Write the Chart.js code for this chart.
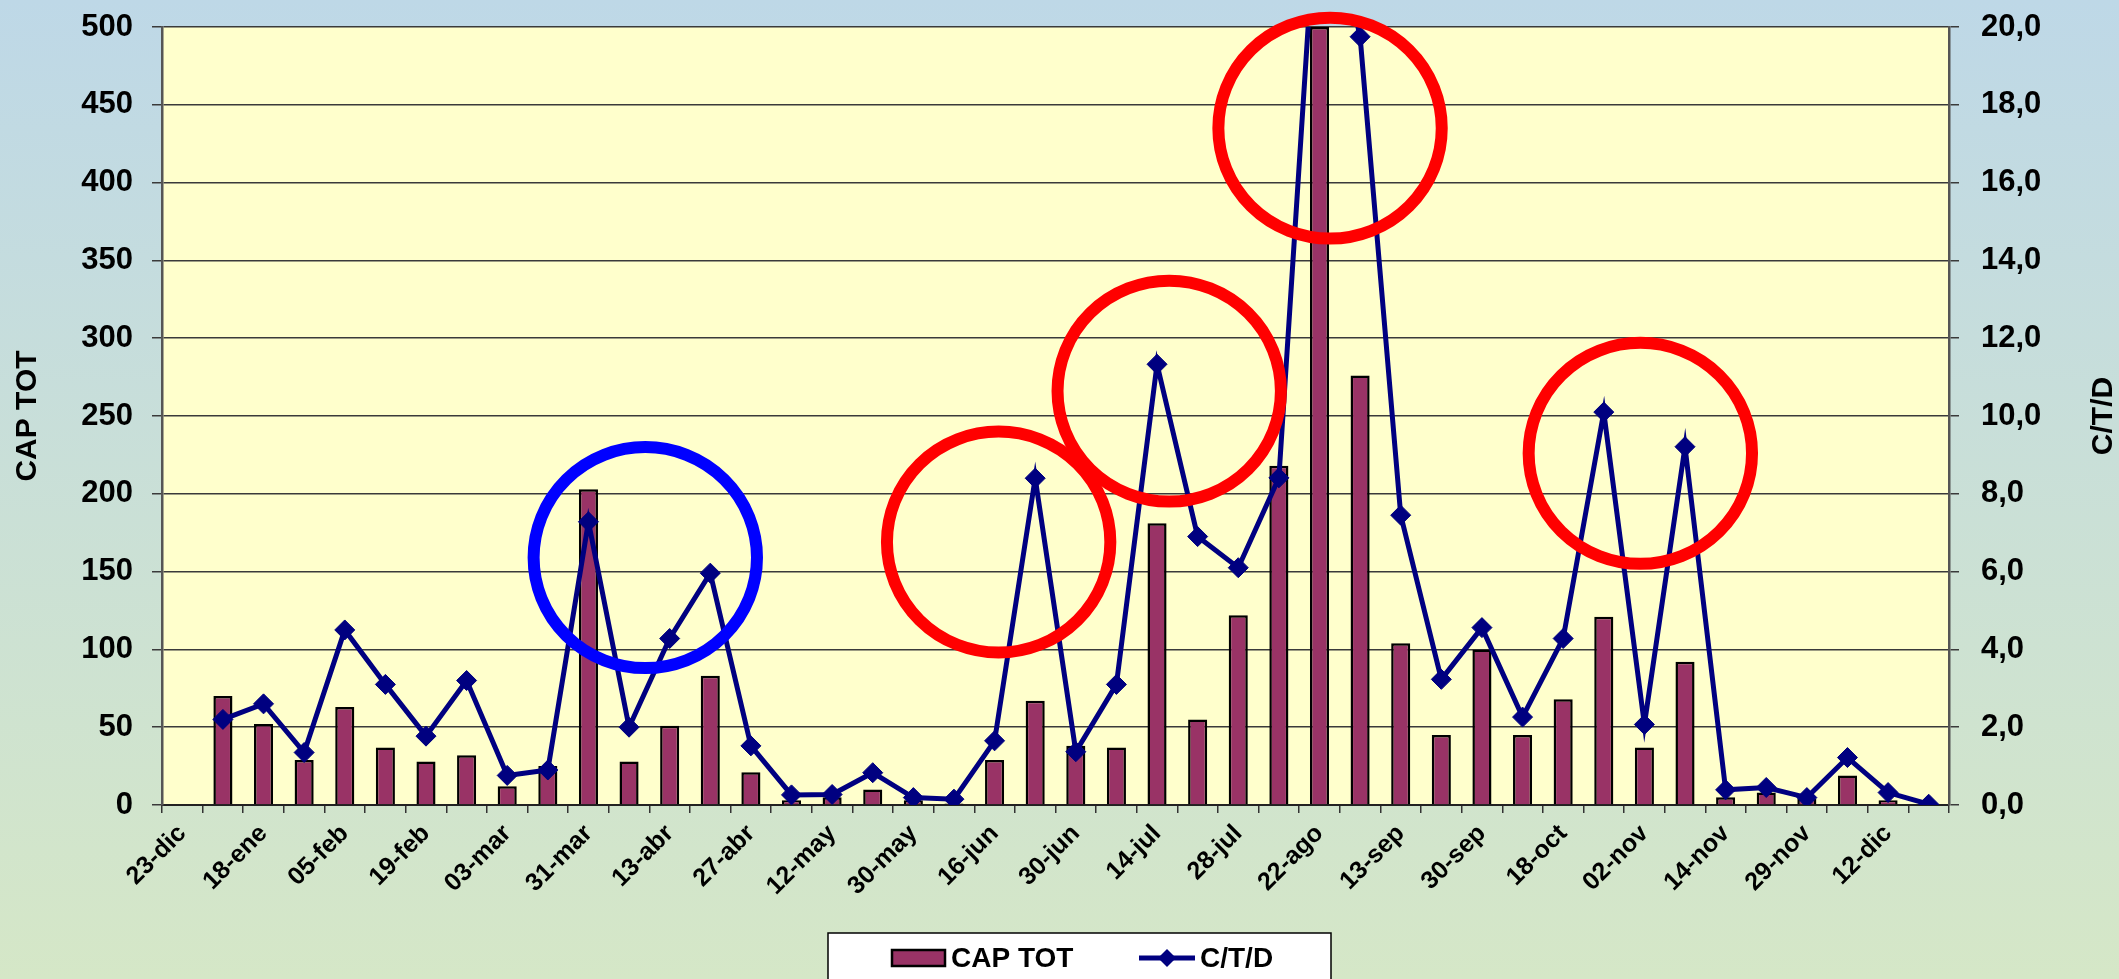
<!DOCTYPE html>
<html lang="es">
<head>
<meta charset="utf-8">
<title>CAP TOT - C/T/D</title>
<style>
  body { margin: 0; }
  #grafico { display: block; background: linear-gradient(#bed8e7, #d5e7c7); }
</style>
</head>
<body>
<canvas id="grafico" width="2119" height="979"></canvas>
<script src="https://cdn.jsdelivr.net/npm/chart.js@4/dist/chart.umd.min.js"></script>
<script>
// fechas (solo se leen las etiquetas pares en el original)
var fechas = ['23-dic','','18-ene','','05-feb','','19-feb','','03-mar','','31-mar','','13-abr','','27-abr','',
              '12-may','','30-may','','16-jun','','30-jun','','14-jul','','28-jul','','22-ago','','13-sep','',
              '30-sep','','18-oct','','02-nov','','14-nov','','29-nov','','12-dic',''];

var capTot = [null, 70, 52, 29, 63, 37, 28, 32, 12, 25, 203, 28, 51, 83, 21, 3, 5, 10, 3, 1,
              29, 67, 38, 37, 181, 55, 122, 218, 500, 276, 104, 45, 100, 45, 68, 121, 37, 92, 5, 8,
              4, 19, 3, null];

var ctd = [null, 2.2, 2.6, 1.35, 4.5, 3.1, 1.77, 3.2, 0.76, 0.9, 7.28, 2.0, 4.28, 5.96, 1.52, 0.26, 0.27, 0.83, 0.19, 0.15,
           1.65, 8.4, 1.37, 3.1, 11.33, 6.9, 6.1, 8.41, 24.5, 19.75, 7.45, 3.23, 4.56, 2.26, 4.28, 10.1, 2.07, 9.21, 0.39, 0.45,
           0.19, 1.22, 0.32, 0.02];

var ticksIzq = [0, 50, 100, 150, 200, 250, 300, 350, 400, 450, 500];
var ticksDer = [0, 2, 4, 6, 8, 10, 12, 14, 16, 18, 20];

// circulos marcados sobre el grafico: centro en (categoria, valor CAP TOT)
var circulos = [
  { cat: 11.4,  val: 159, color: '#0000ff' },
  { cat: 20.1,  val: 169, color: '#ff0000' },
  { cat: 24.3,  val: 266, color: '#ff0000' },
  { cat: 28.26, val: 435, color: '#ff0000' },
  { cat: 35.9,  val: 226, color: '#ff0000' }
];

var FUENTE = '"Liberation Sans", Arial, sans-serif';
var AZUL = '#000080';
var GRANATE = '#993366';

var fondoArea = {
  id: 'fondoArea',
  beforeDraw: function(chart) {
    var a = chart.chartArea, ctx = chart.ctx;
    ctx.save();
    ctx.fillStyle = '#ffffcc';
    ctx.fillRect(a.left, a.top, a.right - a.left, a.bottom - a.top);
    ctx.restore();
  }
};

var extras = {
  id: 'extras',
  afterDraw: function(chart) {
    var ctx = chart.ctx, x = chart.scales.x, y = chart.scales.y, a = chart.chartArea;
    var anchoCat = x.getPixelForValue(1) - x.getPixelForValue(0);
    var pxUnidad = y.getPixelForValue(0) - y.getPixelForValue(1);
    ctx.save();
    // circulos
    circulos.forEach(function(c) {
      ctx.beginPath();
      ctx.ellipse(x.getPixelForValue(c.cat), y.getPixelForValue(c.val), 2.75 * anchoCat, 71 * pxUnidad, 0, 0, Math.PI * 2);
      ctx.lineWidth = 12;
      ctx.strokeStyle = c.color;
      ctx.stroke();
    });

    // titulo eje derecho (leido de abajo hacia arriba)
    ctx.fillStyle = '#000';
    ctx.font = 'bold 30px ' + FUENTE;
    ctx.textAlign = 'center';
    ctx.textBaseline = 'middle';
    ctx.translate(chart.width - 15, (a.top + a.bottom) / 2);
    ctx.rotate(-Math.PI / 2);
    ctx.fillText('C/T/D', 0, 0);
    ctx.restore();

    // leyenda
    ctx.save();
    var L = 828, T = 933, cy = T + 25;
    ctx.fillStyle = '#fff';
    ctx.fillRect(L, T, 503, 60);
    ctx.strokeStyle = '#000';
    ctx.lineWidth = 1.5;
    ctx.strokeRect(L, T, 503, 60);
    ctx.fillStyle = GRANATE;
    ctx.fillRect(L + 64, cy - 8, 53, 16);
    ctx.lineWidth = 2.5;
    ctx.strokeRect(L + 64, cy - 8, 53, 16);
    ctx.fillStyle = '#000';
    ctx.font = 'bold 28px ' + FUENTE;
    ctx.textBaseline = 'middle';
    ctx.fillText(chart.data.datasets[1].label, L + 123, cy + 1);
    ctx.strokeStyle = AZUL;
    ctx.lineWidth = 5;
    ctx.beginPath();
    ctx.moveTo(L + 311, cy);
    ctx.lineTo(L + 367, cy);
    ctx.stroke();
    ctx.fillStyle = AZUL;
    ctx.beginPath();
    ctx.moveTo(L + 339, cy - 9);
    ctx.lineTo(L + 348, cy);
    ctx.lineTo(L + 339, cy + 9);
    ctx.lineTo(L + 330, cy);
    ctx.closePath();
    ctx.fill();
    ctx.fillStyle = '#000';
    ctx.fillText(chart.data.datasets[0].label, L + 372, cy + 1);
    ctx.restore();
  }
};

// sin relleno extra arriba/abajo por las etiquetas de los ejes y
function ajustaY(ancho) {
  return function(s) {
    s.width = ancho;
    s.paddingTop = 0;
    s.paddingBottom = 0;
  };
}

var ctx = document.getElementById('grafico');
var grafico = new Chart(ctx, {
  type: 'bar',
  data: {
    labels: fechas,
    datasets: [
      {
        type: 'line',
        label: 'C/T/D',
        data: ctd,
        yAxisID: 'y1',
        borderColor: AZUL,
        backgroundColor: AZUL,
        borderWidth: 5,
        tension: 0,
        pointStyle: 'rectRot',
        pointRadius: 10,
        pointBackgroundColor: AZUL,
        pointBorderColor: AZUL,
        pointBorderWidth: 1,
        order: 0
      },
      {
        type: 'bar',
        label: 'CAP TOT',
        data: capTot,
        yAxisID: 'y',
        backgroundColor: GRANATE,
        borderColor: '#000',
        borderWidth: 2.5,
        barPercentage: 0.47,
        categoryPercentage: 1,
        order: 1
      }
    ]
  },
  options: {
    responsive: false,
    animation: false,
    devicePixelRatio: 1,
    layout: { padding: { top: 27, left: 0, right: 0, bottom: 50 } },
    plugins: {
      legend: { display: false },
      tooltip: { enabled: false }
    },
    scales: {
      x: {
        grid: { display: true, drawOnChartArea: false, drawTicks: true, tickLength: 8, color: '#333', lineWidth: 1.5 },
        border: { color: '#222', width: 2 },
        ticks: {
          autoSkip: false,
          maxRotation: 45,
          minRotation: 45,
          padding: 6,
          color: '#000',
          font: { family: FUENTE, size: 25, weight: 'bold' },
          callback: function(v, i) { return fechas[i]; }
        },
        afterFit: function(s) { s.height = 124; }
      },
      y: {
        position: 'left',
        min: 0,
        max: 500,
        afterBuildTicks: function(s) { s.ticks = ticksIzq.map(function(v) { return { value: v }; }); },
        grid: { color: '#3a3a3a', lineWidth: 1.5, tickLength: 10 },
        border: { color: '#555', width: 2.5 },
        ticks: {
          padding: 19,
          color: '#000',
          font: { family: FUENTE, size: 31, weight: 'bold' }
        },
        title: {
          display: true,
          text: 'CAP TOT',
          color: '#000',
          font: { family: FUENTE, size: 30, weight: 'bold', lineHeight: 1 },
          padding: { top: 13, bottom: 0 }
        },
        afterFit: ajustaY(162)
      },
      y1: {
        position: 'right',
        min: 0,
        max: 20,
        afterBuildTicks: function(s) { s.ticks = ticksDer.map(function(v) { return { value: v }; }); },
        grid: { drawOnChartArea: false, color: '#3a3a3a', lineWidth: 1.5, tickLength: 10 },
        border: { color: '#555', width: 2.5 },
        ticks: {
          padding: 22,
          color: '#000',
          font: { family: FUENTE, size: 31, weight: 'bold' },
          callback: function(v) { return v.toFixed(1).replace('.', ','); }
        },
        afterFit: ajustaY(170)
      }
    }
  },
  plugins: [fondoArea, extras]
});
</script>
</body>
</html>
